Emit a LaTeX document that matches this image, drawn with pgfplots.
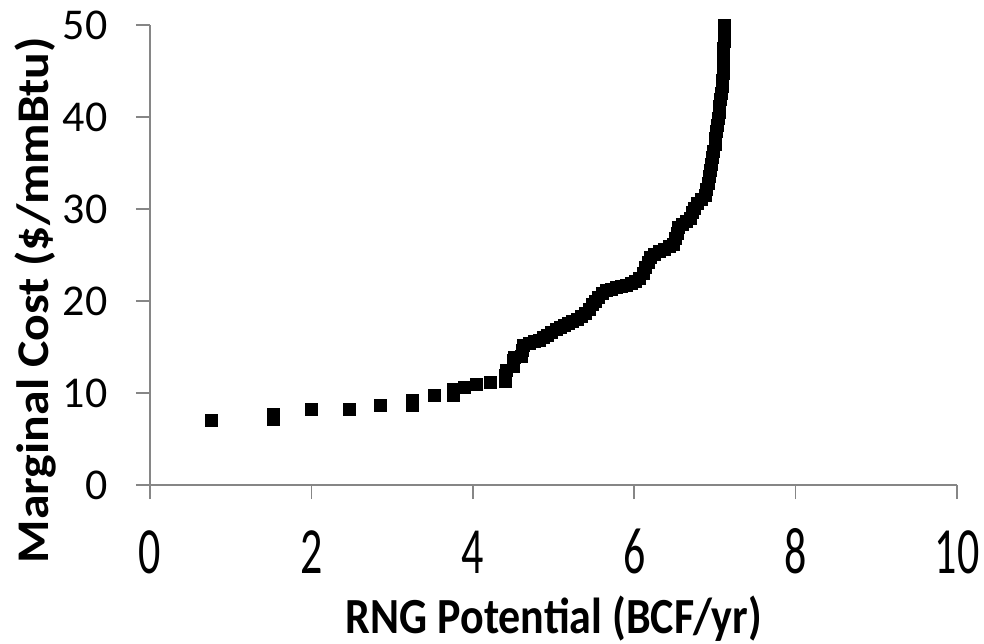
\documentclass[border=0pt]{standalone}
\usepackage{pgfplots}
\pgfplotsset{compat=1.18}
\usepackage{fontspec}
\setmainfont{Carlito}

\definecolor{axisgray}{RGB}{134,134,134}

\begin{document}
\fontsize{22}{26}\selectfont
\begin{tikzpicture}
  % frame the page to the reference's proportions (1px = 0.5pt)
  \useasboundingbox (-75pt,-79pt) rectangle (417pt,242.5pt);
  \begin{axis}[
      scale only axis,
      width=403.5pt, height=230pt,
      xmin=0, xmax=10, ymin=0, ymax=50,
      xtick={0,2,...,10}, ytick={0,10,...,50},
      axis x line=bottom, axis y line=left,
      axis line style={-, draw=axisgray, line width=0.75pt},
      tick style={draw=axisgray, line width=0.75pt},
      tick align=outside, major tick length=7pt,
      /pgf/number format/assume math mode=true,
      xticklabel={\scalebox{1}[1.5]{\pgfmathprintnumber{\tick}}},
      xticklabel style={anchor=base, inner sep=0pt, yshift=-37pt},
      yticklabel style={anchor=east, inner sep=0pt, xshift=-14pt},
      xlabel={\scalebox{1}[1.15]{\bfseries RNG Potential (BCF/yr)}},
      ylabel={\scalebox{1.13}[1.03]{\bfseries Marginal Cost (\$/mmBtu)}},
      xlabel style={at={(axis description cs:0.5006,-0.322)}, anchor=base, inner sep=0pt},
      ylabel style={at={(axis description cs:-0.1413,0.402)}, anchor=center, inner sep=0pt},
      clip=false,
    ]
    \addplot[only marks, mark=square*, mark size=3pt, black] coordinates {
      (0.76,7.0) (1.53,7.1) (1.53,7.7) (2.00,8.2) (2.47,8.2) (2.86,8.7)
      (3.25,8.7) (3.25,9.2) (3.53,9.7) (3.76,9.7) (3.76,10.4) (3.90,10.6)
      (4.05,10.9) (4.22,11.1)
      (4.41,11.3) (4.41,11.9) (4.42,12.5) (4.50,12.9) (4.50,13.5) (4.52,13.9)
      (4.60,14.0) (4.62,14.6) (4.63,15.2) (4.70,15.4) (4.76,15.6) (4.82,15.7)
      (4.88,16.0) (4.93,16.3) (4.98,16.6) (5.03,16.9) (5.08,17.1) (5.13,17.4)
      (5.18,17.6) (5.24,17.8) (5.30,18.0) (5.35,18.3) (5.40,18.7) (5.44,19.1)
      (5.48,19.6) (5.52,20.0) (5.56,20.4) (5.61,20.8) (5.66,21.1) (5.72,21.3)
      (5.78,21.5) (5.84,21.6) (5.90,21.7) (5.96,21.9) (6.02,22.1) (6.07,22.5)
      (6.11,23.0) (6.14,23.6) (6.17,24.2) (6.20,24.7) (6.25,25.1) (6.31,25.4)
      (6.37,25.6) (6.43,25.9) (6.48,26.2) (6.51,26.8) (6.53,27.4) (6.55,28.0)
      (6.60,28.3) (6.65,28.6) (6.70,29.0) (6.72,29.6) (6.74,30.1) (6.78,30.6)
      (6.83,31.0) (6.88,31.5) (6.90,32.1) (6.92,32.8) (6.93,33.5) (6.94,34.2)
      (6.96,34.9) (6.97,35.6) (6.98,36.3) (7.00,37.0) (7.01,37.7) (7.02,38.4)
      (7.03,39.1) (7.04,39.8) (7.05,40.5) (7.06,41.2) (7.07,41.9) (7.08,42.6)
      (7.09,43.3) (7.09,44.0) (7.10,44.7) (7.10,45.4) (7.11,46.1) (7.11,46.8)
      (7.11,47.5) (7.12,48.2) (7.12,48.9) (7.12,49.6) (7.12,50.0)
    };
  \end{axis}
\end{tikzpicture}
\end{document}
